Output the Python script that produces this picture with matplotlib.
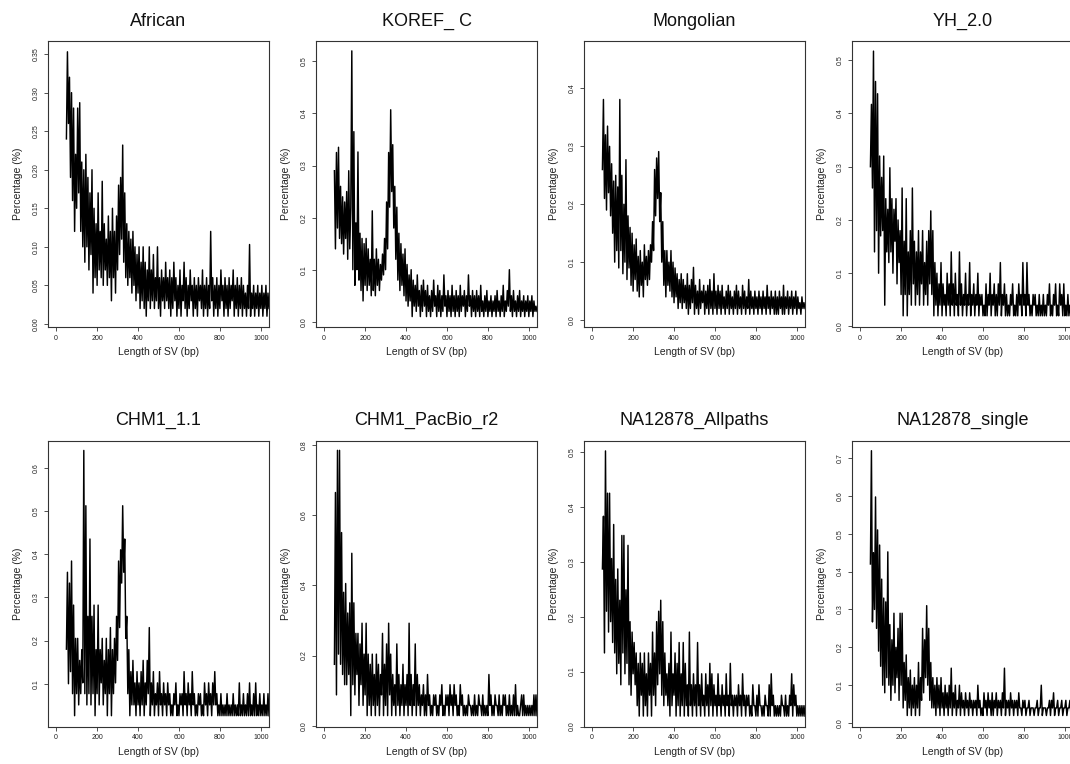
"""Eight-panel SV length distribution figure (percentage by SV length)."""

import numpy as np
import matplotlib
matplotlib.use("Agg")
import matplotlib.pyplot as plt
from matplotlib.ticker import FormatStrFormatter

plt.rcParams["font.family"] = ["Liberation Sans", "DejaVu Sans"]

# sample names, in panel order (row by row)
SAMPLES = ["African", "KOREF_ C", "Mongolian", "YH_2.0",
           "CHM1_1.1", "CHM1_PacBio_r2", "NA12878_Allpaths", "NA12878_single"]

# percentages, one value every 5 bp starting at 50 bp
AFRICAN = [
    0.24, 0.353, 0.26, 0.32, 0.19, 0.30, 0.16, 0.28, 0.12, 0.22,  # 50
    0.15, 0.28, 0.17, 0.287, 0.12, 0.21, 0.10, 0.20, 0.08, 0.22,  # 100
    0.10, 0.19, 0.07, 0.17, 0.09, 0.20, 0.04, 0.15, 0.06, 0.13,  # 150
    0.05, 0.17, 0.07, 0.12, 0.06, 0.185, 0.05, 0.13, 0.07, 0.11,  # 200
    0.05, 0.14, 0.06, 0.12, 0.03, 0.15, 0.06, 0.12, 0.04, 0.14,  # 250
    0.07, 0.18, 0.09, 0.19, 0.11, 0.232, 0.08, 0.17, 0.06, 0.13,  # 300
    0.05, 0.12, 0.06, 0.11, 0.04, 0.12, 0.05, 0.10, 0.03, 0.09,  # 350
    0.04, 0.10, 0.02, 0.08, 0.03, 0.10, 0.02, 0.08, 0.01, 0.07,  # 400
    0.03, 0.10, 0.02, 0.07, 0.03, 0.09, 0.02, 0.06, 0.03, 0.10,  # 450
    0.02, 0.06, 0.01, 0.07, 0.03, 0.06, 0.02, 0.08, 0.03, 0.06,  # 500
    0.02, 0.07, 0.01, 0.06, 0.02, 0.08, 0.03, 0.06, 0.01, 0.05,  # 550
    0.02, 0.07, 0.01, 0.05, 0.03, 0.08, 0.02, 0.06, 0.01, 0.05,  # 600
    0.02, 0.07, 0.03, 0.05, 0.01, 0.06, 0.02, 0.05, 0.01, 0.06,  # 650
    0.03, 0.05, 0.02, 0.07, 0.01, 0.05, 0.02, 0.06, 0.01, 0.05,  # 700
    0.02, 0.12, 0.03, 0.06, 0.01, 0.05, 0.02, 0.06, 0.01, 0.05,  # 750
    0.02, 0.07, 0.03, 0.05, 0.01, 0.06, 0.02, 0.05, 0.01, 0.06,  # 800
    0.02, 0.05, 0.03, 0.07, 0.01, 0.05, 0.02, 0.06, 0.01, 0.05,  # 850
    0.02, 0.06, 0.01, 0.05, 0.02, 0.04, 0.01, 0.05, 0.02, 0.103,  # 900
    0.01, 0.04, 0.02, 0.05, 0.01, 0.04, 0.02, 0.05, 0.01, 0.04,  # 950
    0.02, 0.05, 0.01, 0.04, 0.02, 0.05, 0.01, 0.04, 0.02,  # 1000
]

KOREF = [
    0.29, 0.14, 0.325, 0.18, 0.335, 0.16, 0.26, 0.15, 0.24, 0.13,  # 50
    0.23, 0.16, 0.25, 0.12, 0.29, 0.14, 0.22, 0.52, 0.10, 0.365,  # 100
    0.07, 0.19, 0.10, 0.326, 0.08, 0.17, 0.06, 0.16, 0.04, 0.15,  # 150
    0.07, 0.16, 0.06, 0.14, 0.07, 0.12, 0.05, 0.213, 0.06, 0.12,  # 200
    0.05, 0.14, 0.07, 0.12, 0.06, 0.11, 0.08, 0.13, 0.09, 0.16,  # 250
    0.10, 0.23, 0.14, 0.325, 0.22, 0.407, 0.25, 0.34, 0.18, 0.26,  # 300
    0.12, 0.22, 0.08, 0.17, 0.06, 0.15, 0.07, 0.13, 0.05, 0.14,  # 350
    0.04, 0.11, 0.03, 0.09, 0.04, 0.10, 0.01, 0.08, 0.03, 0.07,  # 400
    0.02, 0.09, 0.03, 0.06, 0.01, 0.07, 0.02, 0.08, 0.03, 0.06,  # 450
    0.01, 0.07, 0.02, 0.05, 0.01, 0.06, 0.02, 0.08, 0.03, 0.05,  # 500
    0.01, 0.07, 0.02, 0.06, 0.01, 0.05, 0.02, 0.09, 0.03, 0.05,  # 550
    0.01, 0.06, 0.02, 0.05, 0.01, 0.07, 0.02, 0.05, 0.01, 0.06,  # 600
    0.02, 0.05, 0.01, 0.07, 0.02, 0.05, 0.03, 0.06, 0.01, 0.05,  # 650
    0.02, 0.09, 0.03, 0.05, 0.01, 0.06, 0.02, 0.05, 0.01, 0.06,  # 700
    0.02, 0.05, 0.01, 0.07, 0.02, 0.04, 0.01, 0.05, 0.02, 0.06,  # 750
    0.01, 0.04, 0.02, 0.05, 0.01, 0.04, 0.02, 0.05, 0.01, 0.06,  # 800
    0.02, 0.04, 0.01, 0.05, 0.02, 0.07, 0.01, 0.04, 0.02, 0.06,  # 850
    0.03, 0.10, 0.02, 0.05, 0.01, 0.06, 0.02, 0.04, 0.01, 0.05,  # 900
    0.02, 0.06, 0.01, 0.04, 0.02, 0.05, 0.01, 0.04, 0.02, 0.05,  # 950
    0.01, 0.04, 0.02, 0.05, 0.01, 0.04, 0.02, 0.03, 0.02,  # 1000
]

MONGOLIAN = [
    0.26, 0.381, 0.21, 0.32, 0.19, 0.335, 0.22, 0.30, 0.18, 0.27,  # 50
    0.15, 0.24, 0.10, 0.25, 0.12, 0.23, 0.09, 0.381, 0.12, 0.25,  # 100
    0.08, 0.20, 0.10, 0.277, 0.07, 0.18, 0.09, 0.16, 0.06, 0.15,  # 150
    0.05, 0.13, 0.07, 0.14, 0.05, 0.11, 0.04, 0.12, 0.06, 0.10,  # 200
    0.04, 0.13, 0.07, 0.11, 0.06, 0.12, 0.07, 0.13, 0.10, 0.17,  # 250
    0.12, 0.26, 0.18, 0.28, 0.21, 0.291, 0.17, 0.22, 0.10, 0.17,  # 300
    0.06, 0.12, 0.04, 0.12, 0.06, 0.10, 0.05, 0.12, 0.04, 0.10,  # 350
    0.03, 0.09, 0.04, 0.08, 0.02, 0.07, 0.03, 0.08, 0.02, 0.07,  # 400
    0.03, 0.06, 0.02, 0.08, 0.01, 0.06, 0.02, 0.07, 0.03, 0.091,  # 450
    0.01, 0.06, 0.02, 0.05, 0.01, 0.07, 0.02, 0.05, 0.03, 0.06,  # 500
    0.01, 0.05, 0.02, 0.06, 0.01, 0.07, 0.02, 0.05, 0.01, 0.08,  # 550
    0.02, 0.05, 0.01, 0.06, 0.02, 0.05, 0.01, 0.06, 0.02, 0.04,  # 600
    0.01, 0.05, 0.02, 0.06, 0.01, 0.05, 0.02, 0.04, 0.01, 0.05,  # 650
    0.02, 0.06, 0.01, 0.05, 0.02, 0.04, 0.01, 0.06, 0.02, 0.05,  # 700
    0.01, 0.04, 0.02, 0.07, 0.01, 0.05, 0.02, 0.04, 0.01, 0.05,  # 750
    0.02, 0.04, 0.01, 0.05, 0.02, 0.04, 0.01, 0.05, 0.02, 0.04,  # 800
    0.01, 0.06, 0.02, 0.04, 0.01, 0.05, 0.02, 0.04, 0.01, 0.05,  # 850
    0.01, 0.04, 0.01, 0.05, 0.02, 0.04, 0.01, 0.06, 0.01, 0.04,  # 900
    0.02, 0.05, 0.01, 0.04, 0.02, 0.05, 0.01, 0.04, 0.02, 0.05,  # 950
    0.01, 0.04, 0.02, 0.03, 0.01, 0.04, 0.02, 0.03, 0.02,  # 1000
]

YH = [
    0.30, 0.417, 0.26, 0.517, 0.14, 0.46, 0.18, 0.437, 0.10, 0.32,  # 50
    0.17, 0.28, 0.18, 0.32, 0.04, 0.24, 0.14, 0.22, 0.12, 0.298,  # 100
    0.14, 0.24, 0.10, 0.22, 0.16, 0.24, 0.08, 0.20, 0.12, 0.18,  # 150
    0.06, 0.26, 0.02, 0.16, 0.06, 0.24, 0.02, 0.14, 0.06, 0.18,  # 200
    0.04, 0.26, 0.08, 0.16, 0.04, 0.14, 0.06, 0.18, 0.04, 0.14,  # 250
    0.08, 0.18, 0.04, 0.12, 0.06, 0.16, 0.04, 0.18, 0.08, 0.217,  # 300
    0.06, 0.18, 0.02, 0.12, 0.04, 0.10, 0.02, 0.08, 0.04, 0.12,  # 350
    0.02, 0.08, 0.04, 0.06, 0.02, 0.10, 0.04, 0.08, 0.02, 0.14,  # 400
    0.04, 0.08, 0.02, 0.10, 0.04, 0.06, 0.02, 0.14, 0.04, 0.08,  # 450
    0.02, 0.06, 0.04, 0.10, 0.02, 0.06, 0.04, 0.12, 0.02, 0.06,  # 500
    0.04, 0.08, 0.02, 0.06, 0.04, 0.10, 0.02, 0.06, 0.04, 0.06,  # 550
    0.02, 0.04, 0.02, 0.08, 0.02, 0.06, 0.04, 0.10, 0.02, 0.06,  # 600
    0.04, 0.08, 0.02, 0.06, 0.02, 0.08, 0.04, 0.12, 0.02, 0.06,  # 650
    0.04, 0.08, 0.02, 0.06, 0.02, 0.04, 0.02, 0.06, 0.04, 0.08,  # 700
    0.02, 0.04, 0.02, 0.06, 0.02, 0.08, 0.04, 0.06, 0.02, 0.12,  # 750
    0.04, 0.06, 0.02, 0.12, 0.04, 0.06, 0.02, 0.04, 0.02, 0.06,  # 800
    0.04, 0.06, 0.02, 0.04, 0.02, 0.06, 0.02, 0.04, 0.02, 0.06,  # 850
    0.02, 0.04, 0.02, 0.06, 0.04, 0.08, 0.02, 0.04, 0.02, 0.06,  # 900
    0.04, 0.08, 0.02, 0.04, 0.02, 0.08, 0.04, 0.06, 0.02, 0.08,  # 950
    0.02, 0.04, 0.02, 0.06, 0.02, 0.04, 0.02, 0.06, 0.02,  # 1000
]

CHM1 = [
    0.180, 0.358, 0.100, 0.333, 0.128, 0.384, 0.077, 0.282, 0.026, 0.205,  # 50
    0.077, 0.205, 0.051, 0.154, 0.077, 0.179, 0.102, 0.640, 0.077, 0.512,  # 100
    0.051, 0.256, 0.077, 0.435, 0.051, 0.256, 0.077, 0.282, 0.026, 0.179,  # 150
    0.077, 0.282, 0.051, 0.179, 0.102, 0.205, 0.051, 0.154, 0.077, 0.205,  # 200
    0.026, 0.179, 0.077, 0.230, 0.026, 0.179, 0.077, 0.205, 0.102, 0.256,  # 250
    0.154, 0.384, 0.230, 0.410, 0.333, 0.512, 0.358, 0.435, 0.205, 0.256,  # 300
    0.077, 0.179, 0.026, 0.128, 0.051, 0.154, 0.051, 0.102, 0.026, 0.128,  # 350
    0.051, 0.102, 0.026, 0.128, 0.051, 0.154, 0.026, 0.102, 0.051, 0.154,  # 400
    0.077, 0.230, 0.026, 0.102, 0.051, 0.128, 0.026, 0.077, 0.051, 0.102,  # 450
    0.026, 0.128, 0.051, 0.077, 0.026, 0.102, 0.051, 0.077, 0.026, 0.102,  # 500
    0.051, 0.077, 0.026, 0.051, 0.026, 0.077, 0.051, 0.102, 0.026, 0.051,  # 550
    0.026, 0.077, 0.051, 0.077, 0.026, 0.128, 0.051, 0.077, 0.026, 0.102,  # 600
    0.051, 0.077, 0.026, 0.128, 0.051, 0.077, 0.026, 0.051, 0.026, 0.077,  # 650
    0.051, 0.077, 0.026, 0.051, 0.026, 0.102, 0.051, 0.077, 0.026, 0.102,  # 700
    0.051, 0.077, 0.026, 0.102, 0.051, 0.128, 0.051, 0.077, 0.026, 0.051,  # 750
    0.026, 0.077, 0.026, 0.051, 0.026, 0.051, 0.026, 0.077, 0.026, 0.051,  # 800
    0.026, 0.051, 0.026, 0.077, 0.026, 0.051, 0.026, 0.051, 0.026, 0.102,  # 850
    0.026, 0.051, 0.026, 0.077, 0.026, 0.051, 0.026, 0.077, 0.026, 0.102,  # 900
    0.026, 0.051, 0.026, 0.077, 0.026, 0.102, 0.026, 0.051, 0.026, 0.077,  # 950
    0.026, 0.051, 0.026, 0.077, 0.026, 0.051, 0.026, 0.077, 0.026,  # 1000
]

PACBIO = [
    0.175, 0.664, 0.088, 0.784, 0.204, 0.784, 0.175, 0.550, 0.146, 0.380,  # 50
    0.117, 0.405, 0.117, 0.321, 0.146, 0.350, 0.029, 0.491, 0.117, 0.350,  # 100
    0.088, 0.263, 0.146, 0.263, 0.058, 0.233, 0.117, 0.292, 0.058, 0.204,  # 150
    0.088, 0.292, 0.029, 0.204, 0.058, 0.175, 0.029, 0.204, 0.058, 0.146,  # 200
    0.029, 0.204, 0.058, 0.175, 0.029, 0.146, 0.088, 0.263, 0.029, 0.175,  # 250
    0.058, 0.233, 0.029, 0.292, 0.088, 0.204, 0.029, 0.146, 0.058, 0.117,  # 300
    0.029, 0.233, 0.058, 0.146, 0.029, 0.117, 0.058, 0.175, 0.029, 0.117,  # 350
    0.058, 0.146, 0.029, 0.292, 0.058, 0.146, 0.029, 0.117, 0.058, 0.233,  # 400
    0.029, 0.146, 0.058, 0.117, 0.029, 0.088, 0.058, 0.117, 0.029, 0.088,  # 450
    0.029, 0.146, 0.058, 0.088, 0.029, 0.058, 0.029, 0.088, 0.058, 0.088,  # 500
    0.029, 0.058, 0.029, 0.088, 0.058, 0.117, 0.029, 0.058, 0.029, 0.088,  # 550
    0.058, 0.088, 0.029, 0.117, 0.058, 0.088, 0.029, 0.117, 0.058, 0.088,  # 600
    0.029, 0.058, 0.029, 0.117, 0.058, 0.088, 0.029, 0.058, 0.029, 0.058,  # 650
    0.029, 0.088, 0.058, 0.058, 0.029, 0.058, 0.029, 0.088, 0.029, 0.058,  # 700
    0.029, 0.088, 0.058, 0.058, 0.029, 0.088, 0.029, 0.058, 0.029, 0.058,  # 750
    0.029, 0.146, 0.058, 0.088, 0.029, 0.058, 0.029, 0.088, 0.058, 0.058,  # 800
    0.029, 0.088, 0.029, 0.058, 0.029, 0.088, 0.058, 0.088, 0.029, 0.058,  # 850
    0.029, 0.088, 0.029, 0.058, 0.029, 0.088, 0.029, 0.117, 0.029, 0.058,  # 900
    0.029, 0.029, 0.058, 0.088, 0.029, 0.088, 0.029, 0.058, 0.029, 0.058,  # 950
    0.029, 0.058, 0.029, 0.058, 0.029, 0.088, 0.029, 0.088, 0.029,  # 1000
]

ALLPATHS = [
    0.287, 0.383, 0.134, 0.502, 0.210, 0.425, 0.172, 0.425, 0.191, 0.306,  # 50
    0.153, 0.368, 0.134, 0.268, 0.096, 0.287, 0.115, 0.230, 0.076, 0.348,  # 100
    0.134, 0.348, 0.096, 0.249, 0.115, 0.330, 0.076, 0.191, 0.057, 0.172,  # 150
    0.096, 0.153, 0.076, 0.134, 0.038, 0.115, 0.019, 0.134, 0.057, 0.115,  # 200
    0.019, 0.134, 0.038, 0.096, 0.019, 0.134, 0.057, 0.115, 0.019, 0.172,  # 250
    0.057, 0.134, 0.038, 0.191, 0.076, 0.210, 0.096, 0.230, 0.057, 0.191,  # 300
    0.038, 0.134, 0.057, 0.096, 0.038, 0.115, 0.019, 0.172, 0.038, 0.096,  # 350
    0.057, 0.134, 0.019, 0.115, 0.038, 0.153, 0.019, 0.096, 0.038, 0.153,  # 400
    0.019, 0.115, 0.038, 0.076, 0.019, 0.172, 0.038, 0.076, 0.019, 0.096,  # 450
    0.038, 0.076, 0.019, 0.153, 0.038, 0.076, 0.019, 0.096, 0.038, 0.057,  # 500
    0.019, 0.096, 0.038, 0.076, 0.019, 0.115, 0.038, 0.096, 0.019, 0.076,  # 550
    0.038, 0.057, 0.019, 0.096, 0.038, 0.057, 0.019, 0.076, 0.038, 0.057,  # 600
    0.019, 0.096, 0.038, 0.057, 0.019, 0.115, 0.038, 0.057, 0.019, 0.057,  # 650
    0.038, 0.057, 0.019, 0.076, 0.038, 0.057, 0.019, 0.096, 0.038, 0.057,  # 700
    0.019, 0.057, 0.038, 0.057, 0.019, 0.038, 0.019, 0.076, 0.038, 0.038,  # 750
    0.019, 0.057, 0.019, 0.076, 0.038, 0.038, 0.019, 0.038, 0.019, 0.057,  # 800
    0.038, 0.038, 0.019, 0.076, 0.019, 0.096, 0.038, 0.057, 0.019, 0.038,  # 850
    0.019, 0.038, 0.019, 0.038, 0.019, 0.057, 0.038, 0.038, 0.019, 0.057,  # 900
    0.019, 0.038, 0.019, 0.057, 0.038, 0.096, 0.019, 0.076, 0.038, 0.057,  # 950
    0.019, 0.038, 0.019, 0.038, 0.019, 0.038, 0.019, 0.038, 0.019,  # 1000
]

SINGLE = [
    0.42, 0.719, 0.267, 0.45, 0.30, 0.597, 0.25, 0.51, 0.19, 0.47,  # 50
    0.15, 0.38, 0.10, 0.33, 0.08, 0.32, 0.12, 0.452, 0.10, 0.26,  # 100
    0.06, 0.22, 0.10, 0.29, 0.08, 0.20, 0.12, 0.25, 0.06, 0.29,  # 150
    0.10, 0.29, 0.04, 0.16, 0.06, 0.18, 0.02, 0.12, 0.04, 0.14,  # 200
    0.02, 0.10, 0.04, 0.12, 0.02, 0.10, 0.04, 0.16, 0.02, 0.12,  # 250
    0.06, 0.25, 0.08, 0.22, 0.12, 0.31, 0.10, 0.25, 0.06, 0.16,  # 300
    0.04, 0.12, 0.04, 0.10, 0.02, 0.12, 0.04, 0.10, 0.02, 0.12,  # 350
    0.04, 0.08, 0.02, 0.10, 0.04, 0.08, 0.02, 0.10, 0.04, 0.145,  # 400
    0.02, 0.08, 0.04, 0.10, 0.02, 0.06, 0.04, 0.10, 0.02, 0.08,  # 450
    0.04, 0.06, 0.02, 0.08, 0.04, 0.06, 0.02, 0.08, 0.04, 0.06,  # 500
    0.02, 0.06, 0.04, 0.06, 0.02, 0.10, 0.04, 0.06, 0.02, 0.04,  # 550
    0.02, 0.08, 0.04, 0.06, 0.02, 0.08, 0.04, 0.06, 0.02, 0.08,  # 600
    0.02, 0.06, 0.04, 0.08, 0.02, 0.06, 0.04, 0.06, 0.02, 0.08,  # 650
    0.04, 0.145, 0.02, 0.06, 0.04, 0.06, 0.02, 0.08, 0.04, 0.06,  # 700
    0.02, 0.06, 0.04, 0.06, 0.02, 0.08, 0.04, 0.04, 0.02, 0.06,  # 750
    0.04, 0.06, 0.02, 0.04, 0.04, 0.06, 0.02, 0.04, 0.04, 0.04,  # 800
    0.02, 0.04, 0.04, 0.06, 0.02, 0.04, 0.04, 0.10, 0.02, 0.04,  # 850
    0.04, 0.04, 0.02, 0.04, 0.04, 0.06, 0.02, 0.06, 0.04, 0.08,  # 900
    0.02, 0.04, 0.04, 0.06, 0.02, 0.04, 0.04, 0.06, 0.02, 0.04,  # 950
    0.04, 0.06, 0.02, 0.04, 0.04, 0.06, 0.02, 0.04, 0.04,  # 1000
]

SERIES = [AFRICAN, KOREF, MONGOLIAN, YH, CHM1, PACBIO, ALLPATHS, SINGLE]
START_BP = 50
STEP_BP = 5

# axis setup per panel (R-style limits)
Y_LIMITS = [(-0.004, 0.367), (-0.010, 0.539), (-0.012, 0.482), (-0.001, 0.536),
            (0.001, 0.663), (-0.002, 0.812), (0.0, 0.521), (-0.009, 0.746)]
Y_TICKS = [np.arange(0, 0.36, 0.05), np.arange(0, 0.51, 0.1), np.arange(0, 0.41, 0.1),
           np.arange(0, 0.51, 0.1), np.arange(0.1, 0.61, 0.1), np.arange(0, 0.81, 0.2),
           np.arange(0, 0.51, 0.1), np.arange(0, 0.71, 0.1)]
Y_FORMATS = ["%.2f"] + ["%.1f"] * 7

W, H = 1070, 764
LEFTS = [48, 316, 584, 852]
TOPS = [41, 440.5]
PANEL_W, PANEL_H = 221, 286


def main() -> None:
    fig = plt.figure(figsize=(W / 100, H / 100), dpi=100)
    for k, (name, values) in enumerate(zip(SAMPLES, SERIES)):
        row, col = divmod(k, 4)
        ax = fig.add_axes([LEFTS[col] / W, 1 - (TOPS[row] + PANEL_H) / H,
                           PANEL_W / W, PANEL_H / H])
        x = START_BP + STEP_BP * np.arange(len(values))
        ax.plot(x, values, color="black", lw=1.05)

        ax.set_xticks([0, 200, 400, 600, 800, 1000])
        ax.set_yticks(Y_TICKS[k])
        ax.set_xlim(-40, 1040)
        ax.set_ylim(*Y_LIMITS[k])
        ax.yaxis.set_major_formatter(FormatStrFormatter(Y_FORMATS[k]))
        ax.tick_params(axis="both", labelsize=5, length=3, width=0.6,
                       color="#333333", labelcolor="#222222")
        ax.tick_params(axis="x", pad=2.5)
        ax.tick_params(axis="y", pad=3)
        for lab in ax.get_yticklabels():
            lab.set_rotation(90)
            lab.set_va("center")
        for spine in ax.spines.values():
            spine.set_color("#333333")
            spine.set_linewidth(0.8)

        ax.set_title(name, fontsize=13, pad=11, color="#111111")
        ax.set_xlabel("Length of SV (bp)", fontsize=7.5, labelpad=4, color="#222222")
        ax.set_ylabel("Percentage (%)", fontsize=7.5, labelpad=7, color="#222222")

    fig.savefig("out.png", dpi=100, facecolor="white")
    plt.close(fig)


if __name__ == "__main__":
    main()
